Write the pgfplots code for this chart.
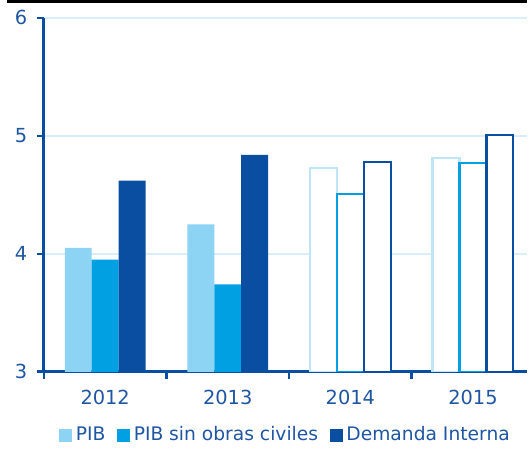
\documentclass[border=0pt]{standalone}
\usepackage{pgfplots}
\pgfplotsset{compat=1.18}
\usepackage{fontspec}
\setmainfont{DejaVu Sans}
\usetikzlibrary{calc}
\definecolor{cpib}{HTML}{8DD3F3}
\definecolor{cpibo}{HTML}{BDE6F8}
\definecolor{csin}{HTML}{00A0E3}
\definecolor{cdem}{HTML}{0A4EA2}
\definecolor{cgrid}{HTML}{D8EEF9}
\definecolor{ctxt}{HTML}{1F56A3}
\begin{document}
\fontsize{19.5}{24}\selectfont
\begin{tikzpicture}
\begin{axis}[name=ax,
  scale only axis, width=485bp, height=355bp,
  xmin=-0.5, xmax=3.443, ymin=3, ymax=6,
  ybar=0pt, bar width=27bp,
  axis x line*=bottom, axis y line*=left,
  axis line style={cdem, line width=2.8bp},
  x axis line style={-}, y axis line style={-},
  xtick={0,1,2,3}, xticklabels={2012,2013,2014,2015},
  major x tick style={draw=none},
  minor xtick={-0.5,0.5,1.5,2.5},
  minor x tick style={cdem, line width=2.6bp},
  minor tick length=7bp,
  ytick={3,4,5,6},
  y tick style={cdem, line width=2.6bp},
  major tick length=7bp,
  tick align=outside,
  ymajorgrids, grid style={cgrid, line width=2.2bp},
  tick label style={text=ctxt, font=\fontsize{19.5}{24}\selectfont},
  /pgf/number format/assume math mode=true,
  xticklabel style={yshift=-5bp},
  yticklabel style={xshift=-3bp},
  legend style={at={(0.5,-0.143)}, anchor=north, draw=none, fill=none,
    legend columns=3, font=\fontsize{18.8}{22}\selectfont, text=ctxt,
    /tikz/every even column/.append style={column sep=10bp},
    /tikz/every odd column/.append style={column sep=1.5bp}},
  legend image code/.code={\fill[#1] (0bp,-6.5bp) rectangle (13bp,6.5bp);},
]
\addplot[fill=cpib, draw=none, bar shift=-27bp] coordinates {(0,4.05) (1,4.25)};
\addlegendentry{PIB}
\addplot[fill=csin, draw=none, bar shift=0bp] coordinates {(0,3.95) (1,3.74)};
\addlegendentry{PIB sin obras civiles}
\addplot[fill=cdem, draw=none, bar shift=27bp] coordinates {(0,4.62) (1,4.84)};
\addlegendentry{Demanda Interna}
\addplot[fill=white, draw=cpibo, line width=2.2bp, bar shift=-27bp, forget plot] coordinates {(2,4.73) (3,4.81)};
\addplot[fill=white, draw=csin, line width=2.2bp, bar shift=0bp, forget plot] coordinates {(2,4.51) (3,4.77)};
\addplot[fill=white, draw=cdem, line width=2.2bp, bar shift=27bp, forget plot] coordinates {(2,4.78) (3,5.01)};
\end{axis}
\draw[black, line width=3.5bp] ($(ax.north west)+(-37bp,16.25bp)$) -- ($(ax.north east)+(0,16.25bp)$);
\path[use as bounding box] ($(ax.south west)+(-44bp,-81bp)$) rectangle ($(ax.north east)+(0,18bp)$);
\end{tikzpicture}
\end{document}
